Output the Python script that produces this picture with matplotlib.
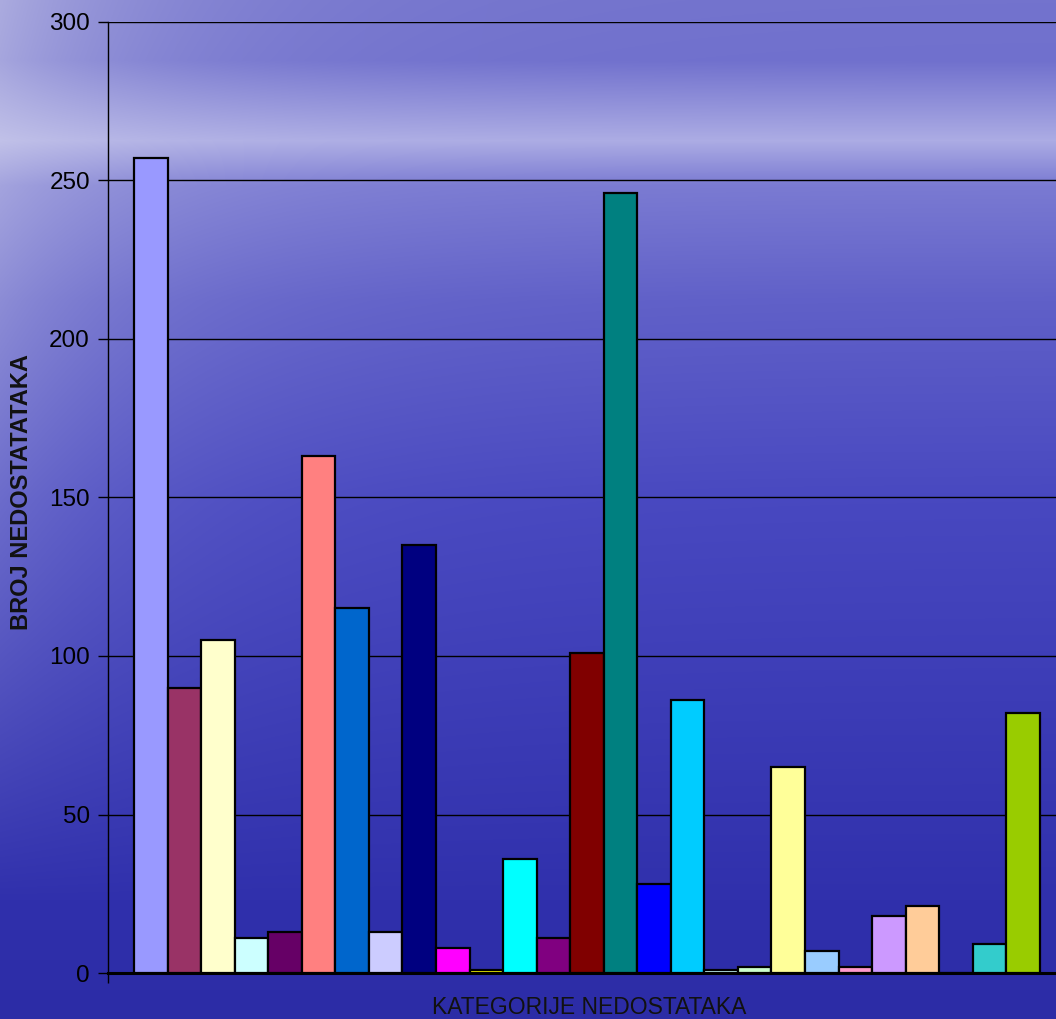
import numpy as np
import matplotlib.pyplot as plt

# Broj nedostataka po kategoriji (one category, one series per bar, Excel style)
values = [257, 90, 105, 11, 13, 163, 115, 13, 135, 8, 1, 36, 11, 101,
          246, 28, 86, 1, 2, 65, 7, 2, 18, 21, 0, 9, 82]
colors = ['#9999FF', '#993366', '#FFFFCC', '#CCFFFF', '#660066', '#FF8080',
          '#0066CC', '#CCCCFF', '#000080', '#FF00FF', '#FFFF00', '#00FFFF',
          '#800080', '#800000', '#008080', '#0000FF', '#00CCFF', '#CCFFFF',
          '#CCFFCC', '#FFFF99', '#99CCFF', '#FF99CC', '#CC99FF', '#FFCC99',
          '#3366FF', '#33CCCC', '#99CC00']
yticks = [0, 50, 100, 150, 200, 250, 300]

W, H = 1056, 1019
fig = plt.figure(figsize=(W / 100, H / 100), dpi=100)

# background: sky / sea gradient
yy, xx = np.mgrid[0:H, 0:W]
ky = [0, 60, 140, 185, 300, 500, 700, 900, 1019]
kr = [115, 112, 172, 122, 96, 72, 60, 48, 44]
kb = [205, 205, 228, 210, 200, 192, 182, 172, 166]
r = np.interp(yy, ky, kr)
b = np.interp(yy, ky, kb)
bg = np.stack([r, r, b], axis=-1) / 255.0
w = (np.exp(-xx / 170.0) * 0.55 * np.clip(1 - yy / 900.0, 0, 1))[..., None]
bg = bg * (1 - w) + np.array([0.85, 0.85, 0.93]) * w
bgax = fig.add_axes([0, 0, 1, 1])
bgax.imshow(bg, aspect='auto', extent=[0, 1, 0, 1])
bgax.axis('off')

# plot area in pixels
left, bottom, top = 108, 973, 22
bw = 33.55
x0 = 134
right = 1090
ax = fig.add_axes([left / W, (H - bottom) / H, (right - left) / W, (bottom - top) / H])
ax.patch.set_alpha(0)

n = len(values)
xs = np.arange(n)
ax.bar(xs, values, width=1.0, align='edge', color=colors,
       edgecolor='black', linewidth=1.6, zorder=3)
ax.set_xlim(-(x0 - left) / bw, (right - x0) / bw)
ax.set_ylim(0, 300)

ax.set_yticks(yticks)
ax.set_yticklabels([str(v) for v in yticks], fontsize=17.5, family='Liberation Sans')
ax.tick_params(axis='y', length=7, width=1, color='black', pad=6)
ax.grid(axis='y', color='black', linewidth=1, zorder=1)
ax.set_axisbelow(True)

ax.set_xticks([ax.get_xlim()[0]])
ax.set_xticklabels([''])
ax.tick_params(axis='x', length=7, width=1, direction='out')

for s in ['top', 'right']:
    ax.spines[s].set_visible(False)
ax.spines['left'].set_linewidth(1)
ax.spines['bottom'].set_linewidth(2.2)

fig.text(589 / W, 1 - 1007 / H, 'KATEGORIJE NEDOSTATAKA', ha='center', va='center',
         fontsize=16.5, family='Liberation Sans', color='#111111')
fig.text(22 / W, 1 - 492 / H, 'BROJ NEDOSTATATAKA', ha='center', va='center',
         rotation=90, fontsize=17, fontweight='bold', family='Liberation Sans',
         color='#111111')

fig.savefig('out.png', dpi=100)
